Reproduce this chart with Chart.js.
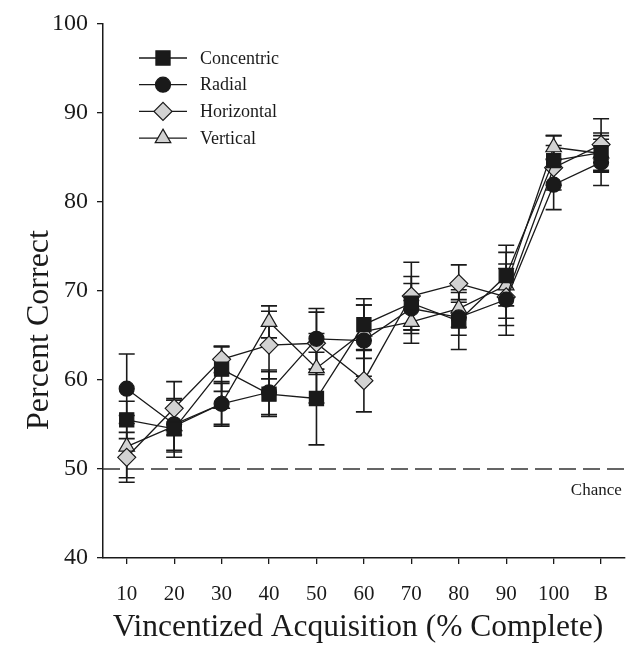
<!DOCTYPE html>
<html>
<head>
<meta charset="utf-8">
<script src="https://cdn.jsdelivr.net/npm/chart.js@4.4.0/dist/chart.umd.min.js"></script>
<style>
    html, body { margin: 0; padding: 0; background: #fff; }
    #contenedor { width: 636px; height: 649px; }
</style>
</head>
<body>
<div id="contenedor"><canvas id="grafica"></canvas></div>
<script>
// categorias del eje x
const categorias = ['10', '20', '30', '40', '50', '60', '70', '80', '90', '100', 'B'];

// medias (% correcto)
const concentric = [55.5, 54.5, 61.2, 58.4, 57.9, 66.2, 68.6, 66.6, 71.7, 84.6, 85.5];
const radial     = [59.0, 55.0, 57.3, 58.6, 64.6, 64.4, 68.0, 67.0, 69.0, 81.9, 84.4];
const horizontal = [51.3, 56.8, 62.3, 63.9, 64.1, 59.9, 69.4, 70.8, 69.3, 83.8, 86.4];
const vertical   = [52.5, 54.8, 57.3, 66.5, 61.3, 65.4, 66.5, 68.0, 70.6, 86.1, 85.4];

// barras de error (+/-)
const errConcentric = [2.1, 3.2, 2.5, 2.5, 5.2, 2.9, 3.0, 3.2, 3.4, 2.8, 2.2];
const errRadial     = [3.9, 2.9, 2.5, 2.5, 3.4, 4.0, 2.8, 2.0, 4.0, 2.8, 2.6];
const errHorizontal = [2.8, 3.0, 1.5, 3.8, 3.5, 3.5, 3.8, 2.1, 3.2, 2.5, 2.9];
const errVertical   = [3.5, 2.9, 2.3, 1.8, 3.9, 3.0, 2.4, 2.1, 3.7, 1.3, 2.0];

// eje y
const yMin = 40;
const yMax = 100;
const yPaso = 10;
const nivelAzar = 50;

const NEGRO = '#1a1a1a';
const GRIS = '#d2d2d2';
const FUENTE = '"Liberation Serif", "Times New Roman", serif';

const series = [
    { nombre: 'Concentric', media: concentric, error: errConcentric, estilo: 'rect', radio: 10, relleno: NEGRO },
    { nombre: 'Radial', media: radial, error: errRadial, estilo: 'circle', radio: 7.5, relleno: NEGRO },
    { nombre: 'Horizontal', media: horizontal, error: errHorizontal, estilo: 'rectRot', radio: 9, relleno: GRIS },
    { nombre: 'Vertical', media: vertical, error: errVertical, estilo: 'triangle', radio: 9, relleno: GRIS }
];

const barrasError = {
    id: 'barrasError',
    beforeDatasetsDraw(chart) {
        const ctx = chart.ctx;
        const x = chart.scales.x;
        const y = chart.scales.y;
        const area = chart.chartArea;
        ctx.save();
        // linea de azar
        const yc = y.getPixelForValue(nivelAzar);
        ctx.strokeStyle = '#333';
        ctx.lineWidth = 1.5;
        ctx.setLineDash([17, 7]);
        ctx.beginPath();
        ctx.moveTo(area.left, yc);
        ctx.lineTo(area.right, yc);
        ctx.stroke();
        ctx.setLineDash([]);
        ctx.fillStyle = NEGRO;
        ctx.font = '17px ' + FUENTE;
        ctx.textAlign = 'right';
        ctx.textBaseline = 'middle';
        ctx.fillText('Chance', area.right - 3, yc + 22);

        ctx.strokeStyle = NEGRO;
        ctx.lineWidth = 1.6;
        series.forEach(s => {
            s.media.forEach((m, i) => {
                const px = x.getPixelForValue(i);
                const arriba = y.getPixelForValue(m + s.error[i]);
                const abajo = y.getPixelForValue(m - s.error[i]);
                ctx.beginPath();
                ctx.moveTo(px, arriba);
                ctx.lineTo(px, abajo);
                ctx.moveTo(px - 8, arriba);
                ctx.lineTo(px + 8, arriba);
                ctx.moveTo(px - 8, abajo);
                ctx.lineTo(px + 8, abajo);
                ctx.stroke();
            });
        });
        ctx.restore();
    },
    afterDraw(chart) {
        const ctx = chart.ctx;
        ctx.save();
        series.forEach((s, i) => {
            const yy = 58 + i * 26.7;
            ctx.strokeStyle = NEGRO;
            ctx.lineWidth = 1.3;
            ctx.beginPath();
            ctx.moveTo(139, yy);
            ctx.lineTo(187, yy);
            ctx.stroke();
            ctx.fillStyle = s.relleno;
            ctx.lineWidth = 1.2;
            Chart.helpers.drawPoint(ctx, { pointStyle: s.estilo, radius: s.radio, rotation: 0, borderWidth: 1.2 }, 163, yy);
            ctx.fillStyle = NEGRO;
            ctx.font = '18px ' + FUENTE;
            ctx.textAlign = 'left';
            ctx.textBaseline = 'middle';
            ctx.fillText(s.nombre, 200, yy + 1);
        });
        // titulo del eje x
        ctx.fillStyle = NEGRO;
        ctx.font = '31.5px ' + FUENTE;
        ctx.textAlign = 'center';
        ctx.textBaseline = 'middle';
        ctx.fillText('Vincentized Acquisition (% Complete)', 358, 628);
        // titulo del eje y
        ctx.translate(40, 330);
        ctx.rotate(-Math.PI / 2);
        ctx.font = '32px ' + FUENTE;
        ctx.fillText('Percent Correct', 0, 0);
        ctx.restore();
    }
};

const ctx = document.getElementById('grafica');

new Chart(ctx, {
    type: 'line',
    data: {
        labels: categorias,
        datasets: series.map(s => ({
            label: s.nombre,
            data: s.media,
            borderColor: NEGRO,
            borderWidth: 1.3,
            backgroundColor: s.relleno,
            pointStyle: s.estilo,
            pointRadius: s.radio,
            pointBackgroundColor: s.relleno,
            pointBorderColor: NEGRO,
            pointBorderWidth: 1.2,
            tension: 0,
            fill: false
        }))
    },
    options: {
        responsive: true,
        maintainAspectRatio: false,
        animation: false,
        layout: { padding: { left: 0, right: 8, top: 20, bottom: 0 } },
        scales: {
            x: {
                type: 'category',
                offset: true,
                grid: { display: true, drawOnChartArea: false, tickLength: 6, color: NEGRO, lineWidth: 1.3 },
                border: { display: true, color: NEGRO, width: 1.5 },
                ticks: { color: NEGRO, font: { family: FUENTE, size: 21 }, padding: 18, maxRotation: 0 },
                title: { display: false },
                afterFit(scale) {
                    scale.height = 91;
                    scale.paddingLeft = 0;
                    scale.paddingRight = 0;
                }
            },
            y: {
                min: yMin,
                max: yMax,
                ticks: { stepSize: yPaso, color: NEGRO, font: { family: FUENTE, size: 24 }, padding: 9 },
                grid: { display: true, drawOnChartArea: false, tickLength: 6, color: NEGRO, lineWidth: 1.3 },
                border: { display: true, color: NEGRO, width: 1.5 },
                title: { display: false },
                afterFit(scale) { scale.width = 103; }
            }
        },
        plugins: {
            legend: { display: false },
            tooltip: { enabled: false }
        }
    },
    plugins: [barrasError]
});
</script>
</body>
</html>
